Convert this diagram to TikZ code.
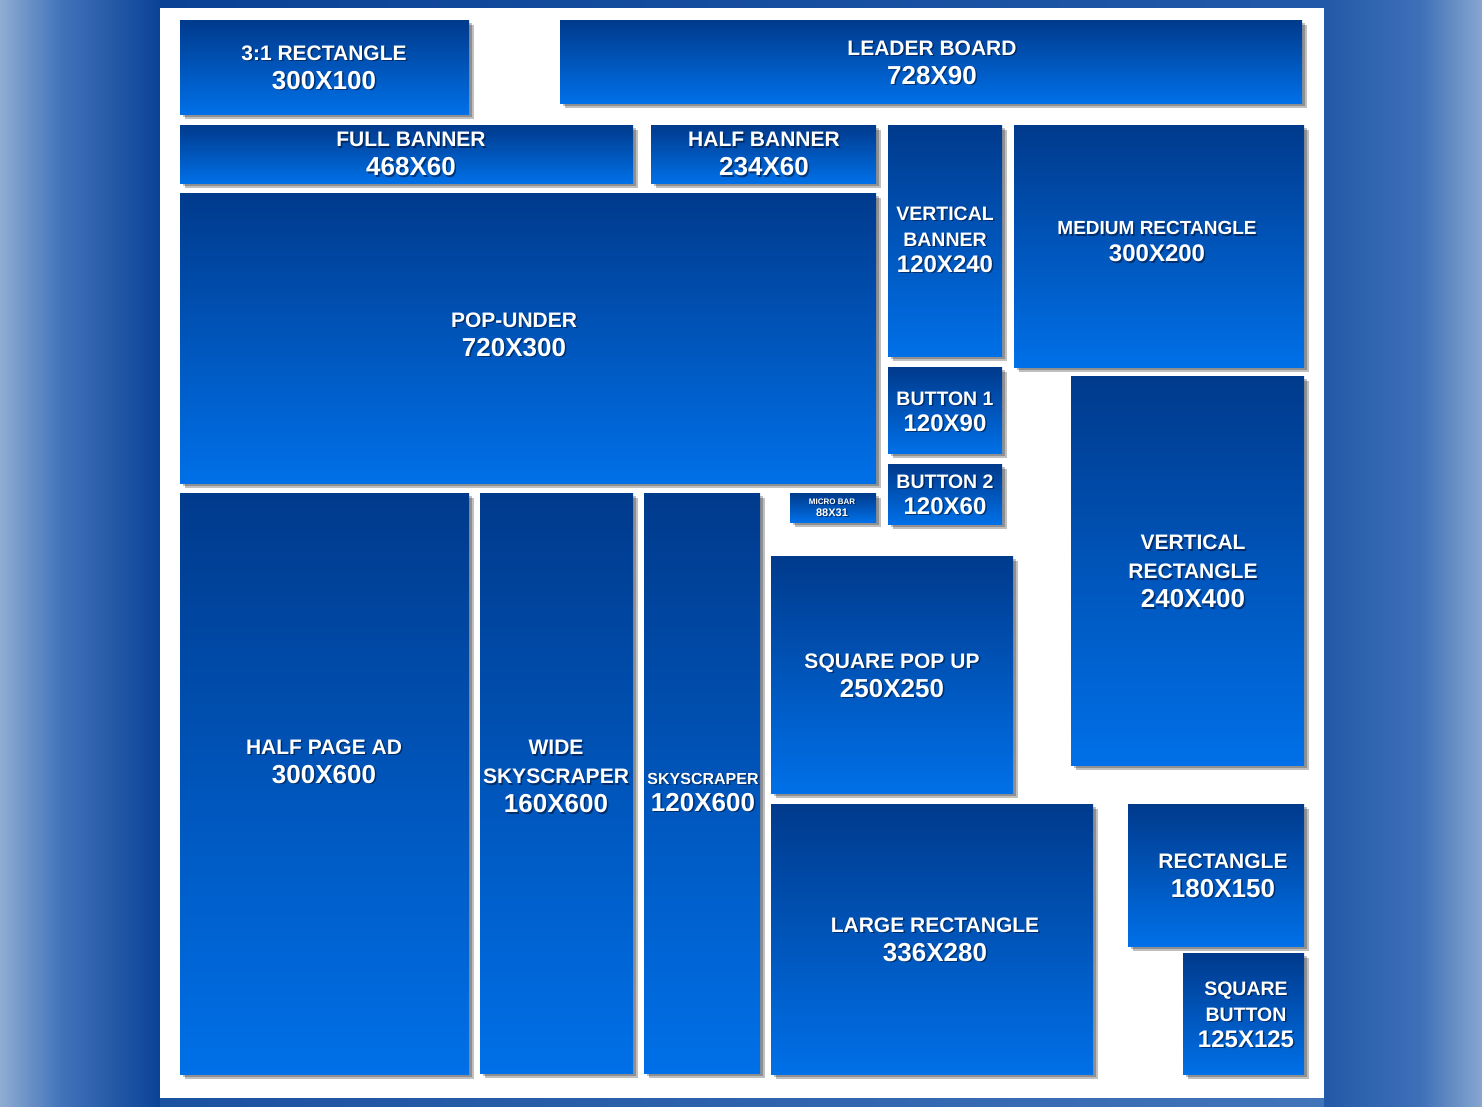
\documentclass[tikz,border=0pt]{standalone}
\usepackage{fontspec}
\setmainfont{Liberation Sans}
\usetikzlibrary{calc, shadows}

\definecolor{adtop}{HTML}{003A8C}
\definecolor{admid}{HTML}{0046A6}
\definecolor{adbot}{HTML}{0070E8}
\definecolor{txtshade}{HTML}{001438}
\definecolor{bgdark}{HTML}{0A4296}
\definecolor{bgmid}{HTML}{4274BA}
\definecolor{bglight}{HTML}{8FACD2}
\definecolor{bgright}{HTML}{2259A8}

\newcommand{\adlbl}{\fontsize{21}{29}\selectfont}
\newcommand{\adnum}{\fontsize{26}{29}\selectfont}
\newcommand{\adlbls}{\fontsize{19.5}{29}\selectfont}
\newcommand{\adnums}{\fontsize{24}{29}\selectfont}

% box: name, x1, y1, x2, y2, text x, text y, text
\newcommand{\adbox}[8]{%
  \path[adfill] (#2,#3) rectangle (#4,#5);
  \node[adtext, text=txtshade, opacity=.6] (#1-sh) at ($(#6,#7)+(1.5,3)$) {#8};
  \node[adtext] (#1) at ($(#6,#7)+(0,1.5)$) {#8};
}

\begin{document}
\begin{tikzpicture}[
    x=1pt, y=-1pt,
    adfill/.style={top color=adtop, middle color=admid, bottom color=adbot,
        general shadow={shadow xshift=2.5pt, shadow yshift=-2.5pt, fill=black, opacity=.25},
        drop shadow={shadow xshift=4.5pt, shadow yshift=-4.5pt, fill=black, opacity=.25}},
    adtext/.style={text=white, font=\bfseries\adlbl, align=center, inner sep=0pt},
  ]
  \useasboundingbox (0,0) rectangle (1482,1106);

  % background
  \fill[bgright] (0,0) rectangle (1482,1106);
  \shade[left color=bglight, right color=bgmid] (0,0) rectangle (60,1106);
  \shade[left color=bgmid, right color=bgdark] (60,0) rectangle (160,1106);
  \shade[left color=bgdark, right color=bgright] (160,0) rectangle (1324,8);
  \shade[left color=bgdark!70!bgmid, right color=bgmid] (160,1098) rectangle (1324,1106);
  \shade[left color=bgright, right color=bgmid!85!bgright] (1324,0) rectangle (1420,1106);
  \shade[left color=bgmid!85!bgright, right color=bglight!90!bgmid] (1420,0) rectangle (1482,1106);
  \fill[white] (160,8) rectangle (1324,1098);

  % top rows
  \adbox{rect31}{180}{20}{469}{114}{324}{66}{3:1 RECTANGLE\\\adnum 300X100}
  \adbox{leader}{560}{20}{1302}{103}{932}{61}{LEADER BOARD\\\adnum 728X90}
  \adbox{full}{180}{125}{633}{183}{411}{152.5}{FULL BANNER\\\adnum 468X60}
  \adbox{half}{651}{125}{876}{183}{764}{152.5}{HALF BANNER\\\adnum 234X60}
  \adbox{vbanner}{888}{125}{1002}{356}{945}{238}{\adlbls VERTICAL\\[-3pt]\adlbls BANNER\\[-3pt]\adnums 120X240}
  \adbox{medium}{1014}{125}{1304}{367}{1157}{240}{\fontsize{19}{29}\selectfont MEDIUM RECTANGLE\\[-2pt]\adnums 300X200}

  % middle
  \adbox{popunder}{180}{193}{876}{483}{514}{333}{POP-UNDER\\\adnum 720X300}
  \adbox{button1}{888}{367}{1002}{453}{945}{410}{\adlbls BUTTON 1\\[-3pt]\adnums 120X90}
  \adbox{button2}{888}{464}{1002}{524}{945}{493}{\adlbls BUTTON 2\\[-3pt]\adnums 120X60}
  \adbox{micro}{790}{493}{876}{522}{832}{506}{{\fontsize{8}{12}\selectfont MICRO BAR}\\[-17pt]{\fontsize{11}{12}\selectfont 88X31}}
  \adbox{vrect}{1071}{376}{1304}{765}{1193}{570}{VERTICAL\\RECTANGLE\\\adnum 240X400}

  % bottom
  \adbox{halfpage}{180}{493}{469}{1074}{324}{760}{HALF PAGE AD\\\adnum 300X600}
  \adbox{widesky}{480}{493}{633}{1073}{556}{775}{WIDE\\SKYSCRAPER\\\adnum 160X600}
  \adbox{sky}{644}{493}{760}{1073}{703}{791}{{\fontsize{16}{29}\selectfont SKYSCRAPER}\\[-2pt]\adnum 120X600}
  \adbox{squarepop}{771}{556}{1013}{793}{892}{674}{SQUARE POP UP\\\adnum 250X250}
  \adbox{large}{771}{804}{1093}{1074}{935}{938}{LARGE RECTANGLE\\\adnum 336X280}
  \adbox{rect}{1128}{804}{1304}{946}{1223}{874}{RECTANGLE\\\adnum 180X150}
  \adbox{sqbutton}{1183}{953}{1304}{1074}{1246}{1013}{\adlbls SQUARE\\[-3pt]\adlbls BUTTON\\[-3pt]\adnums 125X125}
\end{tikzpicture}
\end{document}
